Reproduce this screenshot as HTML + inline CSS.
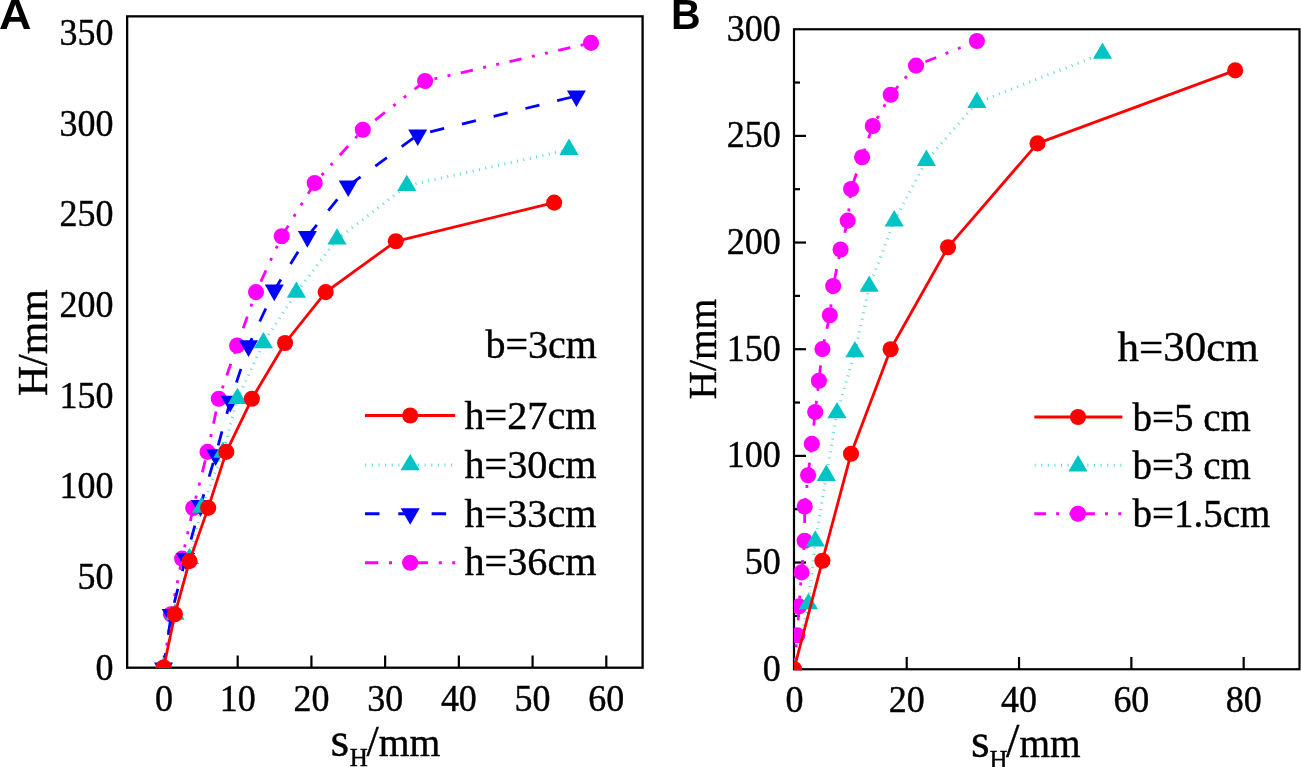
<!DOCTYPE html>
<html><head><meta charset="utf-8"><style>
html,body{margin:0;padding:0;background:#fff;}
svg{display:block;will-change:transform;}
text{-webkit-font-smoothing:antialiased;}
text{font-family:"Liberation Serif", serif;fill:#000;stroke:#000;stroke-width:0.4px;}
.sans{font-family:"Liberation Sans", sans-serif;stroke:none;}
</style></head><body>
<svg width="1301" height="767" viewBox="0 0 1301 767">
<defs>
<clipPath id="ca"><rect x="127.15" y="16.35" width="515.45" height="651.35"/></clipPath>
<clipPath id="cb"><rect x="794" y="29.25" width="505.5" height="641.05"/></clipPath>
</defs>
<rect x="0" y="0" width="1301" height="767" fill="#fff"/>

<line x1="163.98" y1="667.7" x2="163.98" y2="655.5" stroke="#000" stroke-width="2.2"/>
<line x1="237.70" y1="667.7" x2="237.70" y2="655.5" stroke="#000" stroke-width="2.2"/>
<line x1="311.42" y1="667.7" x2="311.42" y2="655.5" stroke="#000" stroke-width="2.2"/>
<line x1="385.14" y1="667.7" x2="385.14" y2="655.5" stroke="#000" stroke-width="2.2"/>
<line x1="458.86" y1="667.7" x2="458.86" y2="655.5" stroke="#000" stroke-width="2.2"/>
<line x1="532.58" y1="667.7" x2="532.58" y2="655.5" stroke="#000" stroke-width="2.2"/>
<line x1="606.30" y1="667.7" x2="606.30" y2="655.5" stroke="#000" stroke-width="2.2"/>
<rect x="127.15" y="16.35" width="515.45" height="651.35" fill="none" stroke="#000" stroke-width="2.3"/>
<g clip-path="url(#ca)">
<polyline points="163.70,667.50 171.00,614.20 182.10,558.60 193.20,508.00 207.50,451.90 218.80,398.80 237.10,345.50 256.00,292.10 281.70,236.30 314.70,183.00 362.80,129.80 425.10,81.00 591.00,42.90" fill="none" stroke="#FF00FF" stroke-width="2.8" stroke-linejoin="round" stroke-linecap="butt" stroke-dasharray="12.4 10.6 3 10.4 3 10.6" stroke-dashoffset="0.94"/>
<circle cx="163.70" cy="667.50" r="8.05" fill="#FF00FF"/>
<circle cx="171.00" cy="614.20" r="8.05" fill="#FF00FF"/>
<circle cx="182.10" cy="558.60" r="8.05" fill="#FF00FF"/>
<circle cx="193.20" cy="508.00" r="8.05" fill="#FF00FF"/>
<circle cx="207.50" cy="451.90" r="8.05" fill="#FF00FF"/>
<circle cx="218.80" cy="398.80" r="8.05" fill="#FF00FF"/>
<circle cx="237.10" cy="345.50" r="8.05" fill="#FF00FF"/>
<circle cx="256.00" cy="292.10" r="8.05" fill="#FF00FF"/>
<circle cx="281.70" cy="236.30" r="8.05" fill="#FF00FF"/>
<circle cx="314.70" cy="183.00" r="8.05" fill="#FF00FF"/>
<circle cx="362.80" cy="129.80" r="8.05" fill="#FF00FF"/>
<circle cx="425.10" cy="81.00" r="8.05" fill="#FF00FF"/>
<circle cx="591.00" cy="42.90" r="8.05" fill="#FF00FF"/>
<polyline points="163.50,668.07 171.20,614.67 185.60,558.57 200.50,505.67 215.60,454.87 230.20,401.37 248.50,345.77 274.30,290.17 307.40,236.67 348.20,185.97 417.70,134.97 576.40,95.97" fill="none" stroke="#0000FF" stroke-width="2.8" stroke-linejoin="round" stroke-linecap="butt" stroke-dasharray="14.4 18.3" stroke-dashoffset="31.86"/>
<path d="M154.00 662.50L173.00 662.50L163.50 679.20Z" fill="#0000FF"/>
<path d="M161.70 609.10L180.70 609.10L171.20 625.80Z" fill="#0000FF"/>
<path d="M176.10 553.00L195.10 553.00L185.60 569.70Z" fill="#0000FF"/>
<path d="M191.00 500.10L210.00 500.10L200.50 516.80Z" fill="#0000FF"/>
<path d="M206.10 449.30L225.10 449.30L215.60 466.00Z" fill="#0000FF"/>
<path d="M220.70 395.80L239.70 395.80L230.20 412.50Z" fill="#0000FF"/>
<path d="M239.00 340.20L258.00 340.20L248.50 356.90Z" fill="#0000FF"/>
<path d="M264.80 284.60L283.80 284.60L274.30 301.30Z" fill="#0000FF"/>
<path d="M297.90 231.10L316.90 231.10L307.40 247.80Z" fill="#0000FF"/>
<path d="M338.70 180.40L357.70 180.40L348.20 197.10Z" fill="#0000FF"/>
<path d="M408.20 129.40L427.20 129.40L417.70 146.10Z" fill="#0000FF"/>
<path d="M566.90 90.40L585.90 90.40L576.40 107.10Z" fill="#0000FF"/>
<path d="M162.13 667.98L162.34 667.00L165.27 667.62L165.06 668.60ZM163.48 661.62L163.69 660.64L166.62 661.26L166.41 662.24ZM164.83 655.26L165.04 654.28L167.97 654.91L167.76 655.88ZM166.18 648.90L166.39 647.92L169.32 648.55L169.11 649.53ZM167.53 642.54L167.74 641.57L170.67 642.19L170.47 643.17ZM168.88 636.19L169.09 635.21L172.02 635.83L171.82 636.81ZM170.23 629.83L170.44 628.85L173.37 629.47L173.17 630.45ZM171.58 623.47L171.79 622.49L174.72 623.12L174.52 624.09ZM172.93 617.11L173.14 616.13L176.08 616.76L175.87 617.74ZM174.46 610.73L174.71 609.76L177.61 610.51L177.36 611.48ZM176.09 604.43L176.34 603.47L179.25 604.22L179.00 605.19ZM177.73 598.14L177.98 597.18L180.88 597.93L180.63 598.90ZM179.36 591.85L179.61 590.88L182.52 591.64L182.26 592.61ZM181.00 585.56L181.25 584.59L184.15 585.35L183.90 586.32ZM182.63 579.27L182.88 578.30L185.79 579.06L185.53 580.02ZM184.27 572.98L184.52 572.01L187.42 572.77L187.17 573.73ZM185.90 566.69L186.15 565.72L189.06 566.47L188.80 567.44ZM187.54 560.40L187.79 559.43L190.69 560.18L190.44 561.15ZM189.06 554.11L189.29 553.14L192.21 553.83L191.98 554.80ZM190.56 547.79L190.79 546.82L193.71 547.50L193.48 548.48ZM192.05 541.46L192.28 540.49L195.20 541.18L194.97 542.15ZM193.54 535.14L193.77 534.16L196.69 534.85L196.46 535.82ZM195.03 528.81L195.26 527.84L198.18 528.52L197.95 529.50ZM196.52 522.48L196.75 521.51L199.67 522.20L199.44 523.17ZM198.02 516.16L198.25 515.18L201.17 515.87L200.94 516.85ZM199.51 509.83L199.74 508.86L202.66 509.55L202.43 510.52ZM201.56 503.46L201.92 502.53L204.71 503.61L204.35 504.54ZM203.90 497.40L204.26 496.47L207.06 497.55L206.70 498.48ZM206.25 491.34L206.61 490.40L209.41 491.49L209.05 492.42ZM208.60 485.28L208.96 484.34L211.76 485.43L211.40 486.36ZM210.95 479.21L211.31 478.28L214.10 479.36L213.74 480.30ZM213.29 473.15L213.65 472.22L216.45 473.30L216.09 474.24ZM215.64 467.09L216.00 466.16L218.80 467.24L218.44 468.17ZM217.99 461.03L218.35 460.10L221.15 461.18L220.79 462.11ZM220.34 454.97L220.70 454.04L223.49 455.12L223.13 456.05ZM222.30 448.95L222.57 447.98L225.46 448.77L225.20 449.73ZM224.00 442.67L224.26 441.71L227.16 442.49L226.90 443.46ZM225.69 436.40L225.95 435.43L228.85 436.22L228.59 437.18ZM227.39 430.12L227.65 429.16L230.55 429.94L230.28 430.91ZM229.08 423.85L229.34 422.88L232.24 423.67L231.98 424.63ZM230.78 417.57L231.04 416.61L233.93 417.39L233.67 418.36ZM232.47 411.30L232.73 410.33L235.63 411.12L235.37 412.08ZM234.17 405.02L234.43 404.06L237.32 404.84L237.06 405.81ZM235.89 398.48L236.32 397.58L239.03 398.85L238.61 399.75ZM238.64 392.59L239.06 391.69L241.78 392.96L241.36 393.86ZM241.39 386.70L241.81 385.80L244.53 387.07L244.11 387.97ZM244.14 380.81L244.56 379.91L247.28 381.18L246.86 382.08ZM246.89 374.92L247.31 374.02L250.03 375.29L249.61 376.19ZM249.64 369.03L250.06 368.13L252.78 369.40L252.36 370.30ZM252.39 363.14L252.81 362.24L255.53 363.51L255.11 364.41ZM255.14 357.25L255.56 356.35L258.28 357.62L257.86 358.52ZM257.89 351.36L258.31 350.46L261.03 351.73L260.61 352.63ZM260.64 345.47L261.06 344.57L263.78 345.84L263.35 346.74ZM263.88 339.62L264.43 338.78L266.94 340.42L266.39 341.26ZM267.43 334.17L267.98 333.34L270.49 334.97L269.94 335.81ZM270.98 328.73L271.53 327.89L274.04 329.53L273.49 330.37ZM274.53 323.28L275.08 322.45L277.59 324.09L277.05 324.92ZM278.08 317.84L278.63 317.00L281.14 318.64L280.60 319.48ZM281.63 312.40L282.18 311.56L284.69 313.20L284.15 314.03ZM285.18 306.95L285.73 306.11L288.24 307.75L287.70 308.59ZM288.74 301.51L289.28 300.67L291.79 302.31L291.25 303.15ZM292.29 296.06L292.83 295.22L295.35 296.86L294.80 297.70ZM295.98 290.58L296.59 289.79L298.97 291.61L298.36 292.40ZM299.93 285.42L300.53 284.62L302.92 286.44L302.31 287.24ZM303.88 280.25L304.48 279.46L306.87 281.28L306.26 282.08ZM307.82 275.09L308.43 274.30L310.81 276.12L310.21 276.91ZM311.77 269.93L312.38 269.13L314.76 270.95L314.15 271.75ZM315.72 264.76L316.33 263.97L318.71 265.79L318.10 266.58ZM319.67 259.60L320.28 258.80L322.66 260.63L322.05 261.42ZM323.62 254.44L324.22 253.64L326.61 255.46L326.00 256.26ZM327.56 249.27L328.17 248.48L330.55 250.30L329.95 251.09ZM331.51 244.11L332.12 243.31L334.50 245.14L333.90 245.93ZM335.46 238.94L336.07 238.15L338.45 239.97L337.84 240.77ZM340.79 234.60L341.58 233.99L343.41 236.37L342.61 236.98ZM345.94 230.64L346.74 230.03L348.56 232.41L347.77 233.02ZM351.10 226.68L351.89 226.07L353.72 228.45L352.92 229.06ZM356.25 222.72L357.05 222.12L358.87 224.49L358.08 225.10ZM361.41 218.77L362.20 218.16L364.03 220.54L363.24 221.14ZM366.56 214.81L367.36 214.20L369.18 216.58L368.39 217.19ZM371.72 210.85L372.51 210.24L374.34 212.62L373.55 213.23ZM376.87 206.89L377.67 206.28L379.49 208.66L378.70 209.27ZM382.03 202.93L382.82 202.32L384.65 204.70L383.86 205.31ZM387.18 198.97L387.98 198.36L389.81 200.74L389.01 201.35ZM392.34 195.01L393.13 194.40L394.96 196.78L394.17 197.39ZM397.50 191.05L398.29 190.44L400.12 192.82L399.32 193.43ZM402.65 187.09L403.44 186.49L405.27 188.87L404.48 189.47ZM408.84 183.81L409.81 183.59L410.46 186.52L409.49 186.74ZM415.18 182.40L416.16 182.18L416.81 185.11L415.83 185.33ZM421.53 180.99L422.50 180.77L423.15 183.70L422.18 183.91ZM427.87 179.57L428.85 179.36L429.50 182.28L428.52 182.50ZM434.22 178.16L435.19 177.94L435.84 180.87L434.87 181.09ZM440.56 176.75L441.54 176.53L442.19 179.46L441.21 179.68ZM446.91 175.34L447.88 175.12L448.53 178.05L447.56 178.27ZM453.25 173.93L454.23 173.71L454.88 176.64L453.90 176.85ZM459.60 172.51L460.57 172.30L461.22 175.22L460.25 175.44ZM465.94 171.10L466.92 170.88L467.57 173.81L466.59 174.03ZM472.28 169.69L473.26 169.47L473.91 172.40L472.94 172.62ZM478.63 168.28L479.61 168.06L480.26 170.99L479.28 171.20ZM484.97 166.86L485.95 166.65L486.60 169.58L485.63 169.79ZM491.32 165.45L492.29 165.24L492.95 168.16L491.97 168.38ZM497.66 164.04L498.64 163.82L499.29 166.75L498.32 166.97ZM504.01 162.63L504.98 162.41L505.64 165.34L504.66 165.56ZM510.35 161.22L511.33 161.00L511.98 163.93L511.00 164.14ZM516.70 159.80L517.67 159.59L518.33 162.52L517.35 162.73ZM523.04 158.39L524.02 158.17L524.67 161.10L523.69 161.32ZM529.39 156.98L530.36 156.76L531.02 159.69L530.04 159.91ZM535.73 155.57L536.71 155.35L537.36 158.28L536.38 158.50ZM542.08 154.16L543.05 153.94L543.70 156.87L542.73 157.08ZM548.42 152.74L549.40 152.53L550.05 155.45L549.07 155.67ZM554.77 151.33L555.74 151.11L556.39 154.04L555.42 154.26ZM561.11 149.92L562.09 149.70L562.74 152.63L561.76 152.85ZM567.46 148.51L568.43 148.29L569.08 151.22L568.11 151.44Z" fill="#00C4C4" fill-opacity="0.65"/>
<path d="M163.70 656.70L173.30 673.00L154.10 673.00Z" fill="#00C4C4"/>
<path d="M175.00 603.50L184.60 619.80L165.40 619.80Z" fill="#00C4C4"/>
<path d="M189.50 547.70L199.10 564.00L179.90 564.00Z" fill="#00C4C4"/>
<path d="M201.60 496.40L211.20 512.70L192.00 512.70Z" fill="#00C4C4"/>
<path d="M222.90 441.40L232.50 457.70L213.30 457.70Z" fill="#00C4C4"/>
<path d="M237.40 387.70L247.00 404.00L227.80 404.00Z" fill="#00C4C4"/>
<path d="M263.40 332.00L273.00 348.30L253.80 348.30Z" fill="#00C4C4"/>
<path d="M296.40 281.40L306.00 297.70L286.80 297.70Z" fill="#00C4C4"/>
<path d="M337.00 228.30L346.60 244.60L327.40 244.60Z" fill="#00C4C4"/>
<path d="M406.80 174.70L416.40 191.00L397.20 191.00Z" fill="#00C4C4"/>
<path d="M569.00 138.60L578.60 154.90L559.40 154.90Z" fill="#00C4C4"/>
<polyline points="163.70,667.50 174.90,614.20 189.50,561.10 208.20,507.90 226.30,451.90 251.90,398.80 285.10,343.00 325.70,292.10 395.80,241.30 554.20,202.60" fill="none" stroke="#FF0000" stroke-width="2.8" stroke-linejoin="round" stroke-linecap="butt"/>
<circle cx="163.70" cy="667.50" r="8.05" fill="#FF0000"/>
<circle cx="174.90" cy="614.20" r="8.05" fill="#FF0000"/>
<circle cx="189.50" cy="561.10" r="8.05" fill="#FF0000"/>
<circle cx="208.20" cy="507.90" r="8.05" fill="#FF0000"/>
<circle cx="226.30" cy="451.90" r="8.05" fill="#FF0000"/>
<circle cx="251.90" cy="398.80" r="8.05" fill="#FF0000"/>
<circle cx="285.10" cy="343.00" r="8.05" fill="#FF0000"/>
<circle cx="325.70" cy="292.10" r="8.05" fill="#FF0000"/>
<circle cx="395.80" cy="241.30" r="8.05" fill="#FF0000"/>
<circle cx="554.20" cy="202.60" r="8.05" fill="#FF0000"/>
</g>
<text transform="translate(163.98,710.84) scale(1,1.045)" font-size="36" text-anchor="middle">0</text>
<text transform="translate(237.70,710.84) scale(1,1.045)" font-size="36" text-anchor="middle">10</text>
<text transform="translate(311.42,710.84) scale(1,1.045)" font-size="36" text-anchor="middle">20</text>
<text transform="translate(385.14,710.84) scale(1,1.045)" font-size="36" text-anchor="middle">30</text>
<text transform="translate(458.86,710.84) scale(1,1.045)" font-size="36" text-anchor="middle">40</text>
<text transform="translate(532.58,710.84) scale(1,1.045)" font-size="36" text-anchor="middle">50</text>
<text transform="translate(606.30,710.84) scale(1,1.045)" font-size="36" text-anchor="middle">60</text>
<text transform="translate(113.50,679.74) scale(1,1.045)" font-size="36" text-anchor="end">0</text>
<text transform="translate(113.50,589.09) scale(1,1.045)" font-size="36" text-anchor="end">50</text>
<text transform="translate(113.50,498.44) scale(1,1.045)" font-size="36" text-anchor="end">100</text>
<text transform="translate(113.50,407.79) scale(1,1.045)" font-size="36" text-anchor="end">150</text>
<text transform="translate(113.50,317.14) scale(1,1.045)" font-size="36" text-anchor="end">200</text>
<text transform="translate(113.50,226.49) scale(1,1.045)" font-size="36" text-anchor="end">250</text>
<text transform="translate(113.50,135.84) scale(1,1.045)" font-size="36" text-anchor="end">300</text>
<text transform="translate(113.50,45.19) scale(1,1.045)" font-size="36" text-anchor="end">350</text>
<text transform="translate(46.6,396.1) rotate(-90)" font-size="41.8">H/mm</text>
<text x="330.5" y="755.5" font-size="48">s</text><text x="349.8" y="766" font-size="25">H</text><text x="366.5" y="755.5" font-size="44">/</text><text x="378.7" y="756" font-size="39.6">mm</text>
<text transform="translate(-1.1,29.0) scale(1.096,1.05)" font-size="41" font-weight="bold" class="sans">A</text>
<text x="485.5" y="358" font-size="40">b=3cm</text>
<text x="464.5" y="429.4" font-size="40.2">h=27cm</text>
<text x="464.5" y="477.7" font-size="40.2">h=30cm</text>
<text x="464.5" y="527.1" font-size="40.2">h=33cm</text>
<text x="464.5" y="575.3" font-size="40.2">h=36cm</text>
<polyline points="365.00,415.50 455.20,415.50" fill="none" stroke="#FF0000" stroke-width="2.8" stroke-linejoin="round" stroke-linecap="butt"/>
<circle cx="410.20" cy="415.50" r="8.05" fill="#FF0000"/>
<path d="M365.30 463.40L366.30 463.40L366.30 466.40L365.30 466.40ZM371.90 463.40L372.90 463.40L372.90 466.40L371.90 466.40ZM378.50 463.40L379.50 463.40L379.50 466.40L378.50 466.40ZM385.10 463.40L386.10 463.40L386.10 466.40L385.10 466.40ZM391.70 463.40L392.70 463.40L392.70 466.40L391.70 466.40ZM398.30 463.40L399.30 463.40L399.30 466.40L398.30 466.40ZM404.90 463.40L405.90 463.40L405.90 466.40L404.90 466.40ZM411.50 463.40L412.50 463.40L412.50 466.40L411.50 466.40ZM418.10 463.40L419.10 463.40L419.10 466.40L418.10 466.40ZM424.70 463.40L425.70 463.40L425.70 466.40L424.70 466.40ZM431.30 463.40L432.30 463.40L432.30 466.40L431.30 466.40ZM437.90 463.40L438.90 463.40L438.90 466.40L437.90 466.40ZM444.50 463.40L445.50 463.40L445.50 466.40L444.50 466.40ZM451.10 463.40L452.10 463.40L452.10 466.40L451.10 466.40Z" fill="#00C4C4" fill-opacity="0.65"/>
<path d="M410.20 453.90L419.80 470.20L400.60 470.20Z" fill="#00C4C4"/>
<polyline points="365.00,513.70 455.20,513.70" fill="none" stroke="#0000FF" stroke-width="3" stroke-linejoin="round" stroke-linecap="butt" stroke-dasharray="14.5 18.8"/>
<path d="M400.70 508.13L419.70 508.13L410.20 524.83Z" fill="#0000FF"/>
<polyline points="365.00,562.80 455.20,562.80" fill="none" stroke="#FF00FF" stroke-width="3" stroke-linejoin="round" stroke-linecap="butt" stroke-dasharray="13.2 10.8 3 10.5 3 9.3"/>
<circle cx="410.20" cy="562.80" r="8.05" fill="#FF00FF"/>
<line x1="906.72" y1="669.2" x2="906.72" y2="657" stroke="#000" stroke-width="2.2"/>
<line x1="1019.04" y1="669.2" x2="1019.04" y2="657" stroke="#000" stroke-width="2.2"/>
<line x1="1131.36" y1="669.2" x2="1131.36" y2="657" stroke="#000" stroke-width="2.2"/>
<line x1="1243.68" y1="669.2" x2="1243.68" y2="657" stroke="#000" stroke-width="2.2"/>
<line x1="794" y1="615.87" x2="800" y2="615.87" stroke="#000" stroke-width="2.2"/>
<line x1="794" y1="562.54" x2="806" y2="562.54" stroke="#000" stroke-width="2.2"/>
<line x1="794" y1="509.20" x2="800" y2="509.20" stroke="#000" stroke-width="2.2"/>
<line x1="794" y1="455.87" x2="806" y2="455.87" stroke="#000" stroke-width="2.2"/>
<line x1="794" y1="402.54" x2="800" y2="402.54" stroke="#000" stroke-width="2.2"/>
<line x1="794" y1="349.21" x2="806" y2="349.21" stroke="#000" stroke-width="2.2"/>
<line x1="794" y1="295.87" x2="800" y2="295.87" stroke="#000" stroke-width="2.2"/>
<line x1="794" y1="242.54" x2="806" y2="242.54" stroke="#000" stroke-width="2.2"/>
<line x1="794" y1="189.21" x2="800" y2="189.21" stroke="#000" stroke-width="2.2"/>
<line x1="794" y1="135.88" x2="806" y2="135.88" stroke="#000" stroke-width="2.2"/>
<line x1="794" y1="82.54" x2="800" y2="82.54" stroke="#000" stroke-width="2.2"/>
<rect x="794" y="29.25" width="505.5" height="640" fill="none" stroke="#000" stroke-width="2.2"/>
<g clip-path="url(#cb)">
<polyline points="794.00,669.20 797.30,635.20 799.00,606.40 801.50,572.40 804.60,540.80 804.70,506.50 808.10,475.20 811.80,443.90 815.20,412.00 818.90,380.70 822.40,349.10 829.80,315.20 833.20,286.00 840.60,249.50 847.70,220.60 851.10,189.00 862.10,157.20 872.80,126.00 890.70,94.70 916.00,65.60 976.90,41.00" fill="none" stroke="#FF00FF" stroke-width="2.8" stroke-linejoin="round" stroke-linecap="butt" stroke-dasharray="11.7 10.1 3 10.3 3 10.8" stroke-dashoffset="48.84"/>
<circle cx="794.00" cy="669.20" r="8.05" fill="#FF00FF"/>
<circle cx="797.30" cy="635.20" r="8.05" fill="#FF00FF"/>
<circle cx="799.00" cy="606.40" r="8.05" fill="#FF00FF"/>
<circle cx="801.50" cy="572.40" r="8.05" fill="#FF00FF"/>
<circle cx="804.60" cy="540.80" r="8.05" fill="#FF00FF"/>
<circle cx="804.70" cy="506.50" r="8.05" fill="#FF00FF"/>
<circle cx="808.10" cy="475.20" r="8.05" fill="#FF00FF"/>
<circle cx="811.80" cy="443.90" r="8.05" fill="#FF00FF"/>
<circle cx="815.20" cy="412.00" r="8.05" fill="#FF00FF"/>
<circle cx="818.90" cy="380.70" r="8.05" fill="#FF00FF"/>
<circle cx="822.40" cy="349.10" r="8.05" fill="#FF00FF"/>
<circle cx="829.80" cy="315.20" r="8.05" fill="#FF00FF"/>
<circle cx="833.20" cy="286.00" r="8.05" fill="#FF00FF"/>
<circle cx="840.60" cy="249.50" r="8.05" fill="#FF00FF"/>
<circle cx="847.70" cy="220.60" r="8.05" fill="#FF00FF"/>
<circle cx="851.10" cy="189.00" r="8.05" fill="#FF00FF"/>
<circle cx="862.10" cy="157.20" r="8.05" fill="#FF00FF"/>
<circle cx="872.80" cy="126.00" r="8.05" fill="#FF00FF"/>
<circle cx="890.70" cy="94.70" r="8.05" fill="#FF00FF"/>
<circle cx="916.00" cy="65.60" r="8.05" fill="#FF00FF"/>
<circle cx="976.90" cy="41.00" r="8.05" fill="#FF00FF"/>
<path d="M792.43 669.67L792.64 668.69L795.57 669.33L795.36 670.31ZM793.83 663.32L794.04 662.34L796.97 662.99L796.76 663.96ZM795.22 656.97L795.44 655.99L798.37 656.64L798.15 657.61ZM796.62 650.62L796.84 649.65L799.77 650.29L799.55 651.27ZM798.02 644.27L798.23 643.30L801.16 643.94L800.95 644.92ZM799.42 637.93L799.63 636.95L802.56 637.59L802.35 638.57ZM800.81 631.58L801.03 630.60L803.96 631.25L803.74 632.22ZM802.21 625.23L802.43 624.25L805.36 624.90L805.14 625.88ZM803.61 618.88L803.82 617.91L806.75 618.55L806.54 619.53ZM805.01 612.53L805.22 611.56L808.15 612.20L807.94 613.18ZM806.40 606.19L806.62 605.21L809.55 605.85L809.33 606.83ZM807.35 599.93L807.46 598.93L810.44 599.26L810.33 600.25ZM808.06 593.47L808.17 592.47L811.15 592.80L811.04 593.79ZM808.77 587.00L808.88 586.01L811.86 586.34L811.75 587.33ZM809.48 580.54L809.59 579.55L812.57 579.88L812.46 580.87ZM810.19 574.08L810.30 573.09L813.28 573.42L813.17 574.41ZM810.90 567.62L811.01 566.63L813.99 566.95L813.88 567.95ZM811.61 561.16L811.72 560.17L814.70 560.49L814.59 561.49ZM812.32 554.70L812.43 553.71L815.41 554.03L815.30 555.03ZM813.03 548.24L813.14 547.24L816.12 547.57L816.01 548.57ZM813.74 541.78L813.85 540.78L816.83 541.11L816.72 542.10ZM814.79 535.28L814.95 534.29L817.91 534.79L817.75 535.77ZM815.86 528.87L816.03 527.88L818.99 528.38L818.82 529.36ZM816.94 522.46L817.10 521.47L820.06 521.97L819.90 522.95ZM818.01 516.05L818.18 515.06L821.14 515.56L820.97 516.54ZM819.09 509.64L819.25 508.65L822.21 509.14L822.05 510.13ZM820.16 503.22L820.33 502.24L823.29 502.73L823.12 503.72ZM821.24 496.81L821.40 495.83L824.36 496.32L824.20 497.31ZM822.31 490.40L822.48 489.42L825.44 489.91L825.27 490.90ZM823.39 483.99L823.55 483.01L826.51 483.50L826.35 484.49ZM824.46 477.58L824.63 476.60L827.59 477.09L827.42 478.08ZM825.55 471.17L825.72 470.18L828.68 470.69L828.51 471.67ZM826.64 464.76L826.81 463.78L829.77 464.28L829.60 465.27ZM827.74 458.36L827.91 457.37L830.86 457.87L830.70 458.86ZM828.83 451.95L829.00 450.96L831.96 451.47L831.79 452.45ZM829.93 445.54L830.09 444.55L833.05 445.06L832.88 446.05ZM831.02 439.13L831.19 438.15L834.14 438.65L833.98 439.64ZM832.11 432.73L832.28 431.74L835.24 432.24L835.07 433.23ZM833.21 426.32L833.37 425.33L836.33 425.84L836.16 426.82ZM834.30 419.91L834.47 418.93L837.42 419.43L837.26 420.42ZM835.39 413.50L835.56 412.52L838.52 413.02L838.35 414.01ZM837.18 407.08L837.46 406.12L840.34 406.96L840.06 407.92ZM839.01 400.84L839.29 399.88L842.17 400.73L841.89 401.69ZM840.84 394.60L841.13 393.64L844.00 394.49L843.72 395.45ZM842.68 388.37L842.96 387.41L845.84 388.25L845.55 389.21ZM844.51 382.13L844.79 381.17L847.67 382.02L847.39 382.98ZM846.34 375.90L846.62 374.94L849.50 375.78L849.22 376.74ZM848.18 369.66L848.46 368.70L851.34 369.55L851.05 370.51ZM850.01 363.42L850.29 362.46L853.17 363.31L852.89 364.27ZM851.84 357.19L852.12 356.23L855.00 357.07L854.72 358.03ZM853.60 351.04L853.81 350.06L856.74 350.70L856.53 351.68ZM854.98 344.69L855.20 343.71L858.13 344.35L857.91 345.33ZM856.37 338.34L856.58 337.36L859.51 338.00L859.30 338.98ZM857.76 331.99L857.97 331.01L860.90 331.65L860.69 332.63ZM859.14 325.64L859.36 324.66L862.29 325.30L862.07 326.28ZM860.53 319.29L860.74 318.31L863.67 318.95L863.46 319.93ZM861.91 312.94L862.13 311.96L865.06 312.60L864.85 313.58ZM863.30 306.59L863.51 305.61L866.45 306.25L866.23 307.23ZM864.69 300.24L864.90 299.26L867.83 299.90L867.62 300.88ZM866.07 293.89L866.29 292.91L869.22 293.55L869.00 294.53ZM867.46 287.54L867.67 286.56L870.60 287.20L870.39 288.18ZM869.66 281.19L870.02 280.26L872.82 281.33L872.46 282.27ZM871.98 275.12L872.34 274.19L875.14 275.26L874.78 276.19ZM874.30 269.05L874.66 268.12L877.46 269.19L877.10 270.12ZM876.62 262.98L876.98 262.05L879.78 263.12L879.43 264.05ZM878.94 256.91L879.30 255.97L882.10 257.04L881.75 257.98ZM881.27 250.84L881.62 249.90L884.42 250.97L884.07 251.91ZM883.59 244.76L883.94 243.83L886.75 244.90L886.39 245.84ZM885.91 238.69L886.26 237.76L889.07 238.83L888.71 239.76ZM888.23 232.62L888.59 231.69L891.39 232.76L891.03 233.69ZM890.55 226.55L890.91 225.62L893.71 226.69L893.35 227.62ZM892.97 220.32L893.44 219.44L896.09 220.85L895.62 221.73ZM896.02 214.58L896.49 213.70L899.14 215.11L898.67 215.99ZM899.08 208.84L899.55 207.96L902.20 209.37L901.73 210.25ZM902.13 203.11L902.60 202.22L905.25 203.63L904.78 204.52ZM905.18 197.37L905.65 196.49L908.30 197.89L907.83 198.78ZM908.24 191.63L908.71 190.75L911.36 192.16L910.89 193.04ZM911.29 185.89L911.76 185.01L914.41 186.42L913.94 187.30ZM914.35 180.15L914.82 179.27L917.46 180.68L916.99 181.56ZM917.40 174.42L917.87 173.53L920.52 174.94L920.05 175.83ZM920.45 168.68L920.92 167.80L923.57 169.21L923.10 170.09ZM923.51 162.94L923.98 162.06L926.63 163.47L926.16 164.35ZM927.35 157.33L928.00 156.57L930.27 158.54L929.61 159.30ZM931.61 152.43L932.27 151.67L934.53 153.64L933.88 154.40ZM935.88 147.52L936.54 146.77L938.80 148.74L938.15 149.49ZM940.15 142.62L940.81 141.87L943.07 143.84L942.41 144.59ZM944.42 137.72L945.08 136.97L947.34 138.94L946.68 139.69ZM948.69 132.82L949.34 132.06L951.61 134.03L950.95 134.79ZM952.96 127.92L953.61 127.16L955.88 129.13L955.22 129.89ZM957.22 123.01L957.88 122.26L960.14 124.23L959.49 124.98ZM961.49 118.11L962.15 117.36L964.41 119.33L963.76 120.08ZM965.76 113.21L966.42 112.46L968.68 114.43L968.02 115.18ZM970.03 108.31L970.69 107.55L972.95 109.52L972.29 110.28ZM974.30 103.40L974.95 102.65L977.22 104.62L976.56 105.37ZM980.32 99.75L981.25 99.39L982.34 102.18L981.41 102.55ZM986.37 97.39L987.31 97.02L988.40 99.82L987.47 100.18ZM992.43 95.02L993.36 94.65L994.45 97.45L993.52 97.81ZM998.48 92.65L999.41 92.29L1000.51 95.08L999.57 95.45ZM1004.54 90.29L1005.47 89.92L1006.56 92.72L1005.63 93.08ZM1010.59 87.92L1011.52 87.56L1012.61 90.35L1011.68 90.71ZM1016.64 85.55L1017.58 85.19L1018.67 87.98L1017.74 88.35ZM1022.70 83.19L1023.63 82.82L1024.72 85.62L1023.79 85.98ZM1028.75 80.82L1029.68 80.46L1030.78 83.25L1029.84 83.61ZM1034.81 78.45L1035.74 78.09L1036.83 80.88L1035.90 81.25ZM1040.86 76.09L1041.79 75.72L1042.88 78.52L1041.95 78.88ZM1046.91 73.72L1047.84 73.36L1048.94 76.15L1048.01 76.51ZM1052.97 71.35L1053.90 70.99L1054.99 73.78L1054.06 74.15ZM1059.02 68.99L1059.95 68.62L1061.04 71.42L1060.11 71.78ZM1065.07 66.62L1066.01 66.26L1067.10 69.05L1066.17 69.41ZM1071.13 64.25L1072.06 63.89L1073.15 66.68L1072.22 67.05ZM1077.18 61.89L1078.11 61.52L1079.21 64.32L1078.27 64.68ZM1083.24 59.52L1084.17 59.16L1085.26 61.95L1084.33 62.31ZM1089.29 57.15L1090.22 56.79L1091.31 59.58L1090.38 59.95ZM1095.34 54.79L1096.28 54.42L1097.37 57.22L1096.44 57.58ZM1101.40 52.42L1102.33 52.06L1103.42 54.85L1102.49 55.21Z" fill="#00C4C4" fill-opacity="0.65"/>
<path d="M794.00 658.40L803.60 674.70L784.40 674.70Z" fill="#00C4C4"/>
<path d="M808.40 593.00L818.00 609.30L798.80 609.30Z" fill="#00C4C4"/>
<path d="M815.30 530.20L824.90 546.50L805.70 546.50Z" fill="#00C4C4"/>
<path d="M826.30 464.60L835.90 480.90L816.70 480.90Z" fill="#00C4C4"/>
<path d="M837.00 401.90L846.60 418.20L827.40 418.20Z" fill="#00C4C4"/>
<path d="M854.90 341.00L864.50 357.30L845.30 357.30Z" fill="#00C4C4"/>
<path d="M869.20 275.50L878.80 291.80L859.60 291.80Z" fill="#00C4C4"/>
<path d="M894.20 210.10L903.80 226.40L884.60 226.40Z" fill="#00C4C4"/>
<path d="M926.40 149.60L936.00 165.90L916.80 165.90Z" fill="#00C4C4"/>
<path d="M976.90 91.60L986.50 107.90L967.30 107.90Z" fill="#00C4C4"/>
<path d="M1102.50 42.50L1112.10 58.80L1092.90 58.80Z" fill="#00C4C4"/>
<polyline points="794.00,669.20 822.40,560.80 851.00,453.80 890.60,349.20 948.00,247.20 1037.50,143.40 1235.20,70.40" fill="none" stroke="#FF0000" stroke-width="2.8" stroke-linejoin="round" stroke-linecap="butt"/>
<circle cx="794.00" cy="669.20" r="8.05" fill="#FF0000"/>
<circle cx="822.40" cy="560.80" r="8.05" fill="#FF0000"/>
<circle cx="851.00" cy="453.80" r="8.05" fill="#FF0000"/>
<circle cx="890.60" cy="349.20" r="8.05" fill="#FF0000"/>
<circle cx="948.00" cy="247.20" r="8.05" fill="#FF0000"/>
<circle cx="1037.50" cy="143.40" r="8.05" fill="#FF0000"/>
<circle cx="1235.20" cy="70.40" r="8.05" fill="#FF0000"/>
</g>
<text transform="translate(794.40,711.54) scale(1,1.045)" font-size="36" text-anchor="middle">0</text>
<text transform="translate(906.72,711.54) scale(1,1.045)" font-size="36" text-anchor="middle">20</text>
<text transform="translate(1019.04,711.54) scale(1,1.045)" font-size="36" text-anchor="middle">40</text>
<text transform="translate(1131.36,711.54) scale(1,1.045)" font-size="36" text-anchor="middle">60</text>
<text transform="translate(1243.68,711.54) scale(1,1.045)" font-size="36" text-anchor="middle">80</text>
<text transform="translate(780.70,680.74) scale(1,1.045)" font-size="36" text-anchor="end">0</text>
<text transform="translate(780.70,574.08) scale(1,1.045)" font-size="36" text-anchor="end">50</text>
<text transform="translate(780.70,467.41) scale(1,1.045)" font-size="36" text-anchor="end">100</text>
<text transform="translate(780.70,360.75) scale(1,1.045)" font-size="36" text-anchor="end">150</text>
<text transform="translate(780.70,254.08) scale(1,1.045)" font-size="36" text-anchor="end">200</text>
<text transform="translate(780.70,147.42) scale(1,1.045)" font-size="36" text-anchor="end">250</text>
<text transform="translate(780.70,40.75) scale(1,1.045)" font-size="36" text-anchor="end">300</text>
<text transform="translate(716,399.6) rotate(-90)" font-size="39.5">H/mm</text>
<text x="971" y="756.5" font-size="48">s</text><text x="989.6" y="767.5" font-size="25">H</text><text x="1006" y="756.5" font-size="48">/</text><text x="1019.5" y="756.5" font-size="39.3">mm</text>
<text transform="translate(670.9,28.9) scale(1,1.04)" font-size="41" font-weight="bold" class="sans">B</text>
<text x="1117.5" y="361" font-size="43">h=30cm</text>
<text x="1132.4" y="430.6" font-size="39">b=5 cm</text>
<text x="1132.4" y="479.3" font-size="39">b=3 cm</text>
<text x="1132.4" y="526.8" font-size="39">b=1.5cm</text>
<polyline points="1034.30,417.00 1122.40,417.00" fill="none" stroke="#FF0000" stroke-width="2.8" stroke-linejoin="round" stroke-linecap="butt"/>
<circle cx="1078.00" cy="417.00" r="8.05" fill="#FF0000"/>
<path d="M1034.60 463.70L1035.60 463.70L1035.60 466.70L1034.60 466.70ZM1041.20 463.70L1042.20 463.70L1042.20 466.70L1041.20 466.70ZM1047.80 463.70L1048.80 463.70L1048.80 466.70L1047.80 466.70ZM1054.40 463.70L1055.40 463.70L1055.40 466.70L1054.40 466.70ZM1061.00 463.70L1062.00 463.70L1062.00 466.70L1061.00 466.70ZM1067.60 463.70L1068.60 463.70L1068.60 466.70L1067.60 466.70ZM1074.20 463.70L1075.20 463.70L1075.20 466.70L1074.20 466.70ZM1080.80 463.70L1081.80 463.70L1081.80 466.70L1080.80 466.70ZM1087.40 463.70L1088.40 463.70L1088.40 466.70L1087.40 466.70ZM1094.00 463.70L1095.00 463.70L1095.00 466.70L1094.00 466.70ZM1100.60 463.70L1101.60 463.70L1101.60 466.70L1100.60 466.70ZM1107.20 463.70L1108.20 463.70L1108.20 466.70L1107.20 466.70ZM1113.80 463.70L1114.80 463.70L1114.80 466.70L1113.80 466.70ZM1120.40 463.70L1121.40 463.70L1121.40 466.70L1120.40 466.70Z" fill="#00C4C4" fill-opacity="0.65"/>
<path d="M1078.00 455.10L1087.60 471.40L1068.40 471.40Z" fill="#00C4C4"/>
<polyline points="1034.30,513.70 1122.40,513.70" fill="none" stroke="#FF00FF" stroke-width="3" stroke-linejoin="round" stroke-linecap="butt" stroke-dasharray="11.7 10.1 3 10.3 3 10.8"/>
<circle cx="1078.00" cy="513.70" r="8.05" fill="#FF00FF"/>
</svg></body></html>
